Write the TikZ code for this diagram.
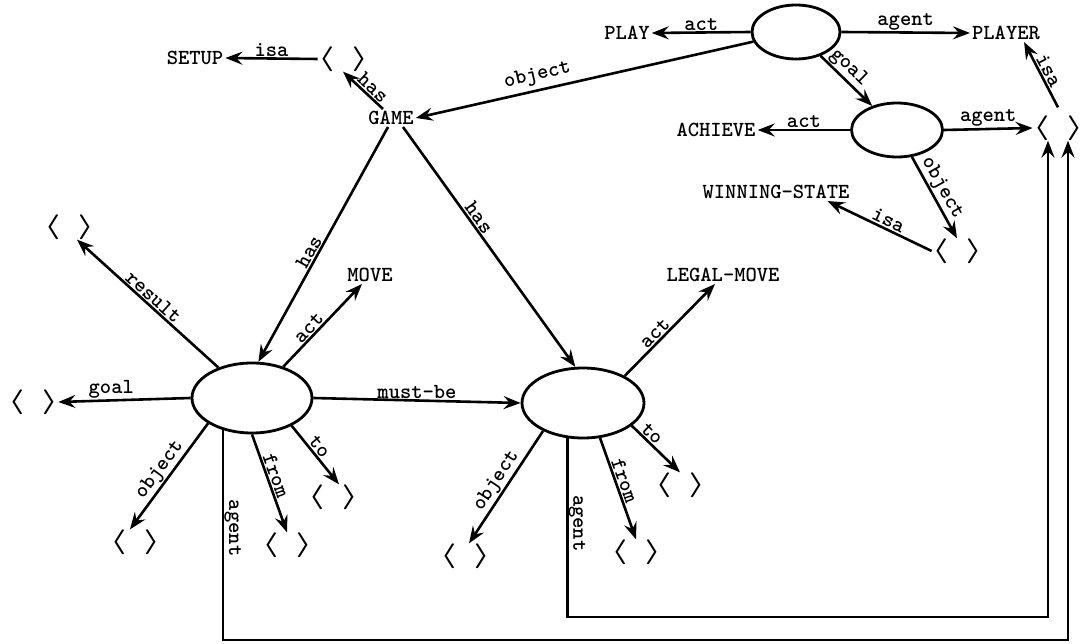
\documentclass[tikz,border=0pt]{standalone}
\usepackage{fontspec}
\usepackage{graphicx}
\usetikzlibrary{shapes.geometric,arrows.meta,calc}
\newcommand{\brk}{{\fontsize{25}{25}\selectfont\boldmath\scalebox{1.5}[1]{$\langle$}\hspace{17pt}\scalebox{1.5}[1]{$\rangle$}}}
\begin{document}
\begin{tikzpicture}[x=1pt,y=-1pt,
  txt/.style={font=\fontsize{21.5}{22}\selectfont\ttfamily\bfseries, inner sep=2pt},
  lab/.style={font=\fontsize{21.5}{22}\selectfont\ttfamily\bfseries, inner sep=1pt},
  brk/.style={inner sep=0pt},
  ell/.style={ellipse, draw, line width=2.8pt, inner sep=0pt},
  arr/.style={line width=2.6pt, -{Stealth[length=17pt,width=13pt,inset=6pt]}}]
\useasboundingbox (0,0) rectangle (1081,644);
% nodes
\node[txt] (setup) at (195,58) {SETUP};
\node[brk] (bTL) at (343,59) {\brk};
\node[txt] (game) at (391,118) {GAME};
\node[txt] (play) at (627,33) {PLAY};
\node[ell, minimum width=88pt, minimum height=54pt] (e1) at (796,32) {};
\node[txt] (player) at (1006,33) {PLAYER};
\node[ell, minimum width=91pt, minimum height=54pt] (e2) at (897,130) {};
\node[txt] (achieve) at (716,130) {ACHIEVE};
\node[brk] (bR) at (1058,128) {\brk};
\node[txt] (ws) at (776,192) {WINNING-STATE};
\node[brk] (bWS) at (957,251) {\brk};
\node[txt] (move) at (370,275) {MOVE};
\node[txt] (legal) at (723,275) {LEGAL-MOVE};
\node[ell, minimum width=120pt, minimum height=70pt] (e3) at (252,398) {};
\node[ell, minimum width=122pt, minimum height=70pt] (e4) at (583,403) {};
\node[brk] (bRes) at (69,227) {\brk};
\node[brk] (bGoal) at (33,402) {\brk};
\node[brk] (bObj3) at (135,542) {\brk};
\node[brk] (bFrom3) at (287,545) {\brk};
\node[brk] (bTo3) at (333,497) {\brk};
\node[brk] (bObj4) at (465,556) {\brk};
\node[brk] (bFrom4) at (636,552) {\brk};
\node[brk] (bTo4) at (680,485) {\brk};
\coordinate (cOut) at (600,640);
\coordinate (cIn) at (800,617);
% top part
\draw[arr] (bTL.west) -- node[lab, above] {isa} (setup.east);
\draw[arr] ([xshift=-8pt]game.north) -- node[lab, sloped, above, pos=.4] {has} (bTL.south);
\draw[arr] (e1) -- node[lab, sloped, above=3pt, pos=.63] {object} (game.east);
\draw[arr] (e1.west) -- node[lab, above] {act} (play.east);
\draw[arr] (e1.east) -- node[lab, above] {agent} (player.west);
\draw[arr] (e1) -- node[lab, sloped, above, pos=.4] {goal} (e2);
\draw[arr] (e2.west) -- node[lab, above] {act} (achieve.east);
\draw[arr] (e2.east) -- node[lab, above] {agent} (bR.west);
\draw[arr] (e2) -- node[lab, sloped, above, pos=.45] {object} (bWS.north);
\draw[arr] (bWS.west) -- node[lab, sloped, above, pos=.45] {isa} ([xshift=-24pt]ws.south east);
\draw[arr] ([yshift=8pt]bR.north) -- node[lab, sloped, above, pos=.5] {isa} ([xshift=-18pt]player.south east);
% GAME has
\draw[arr] ([xshift=-3pt]game.south) -- node[lab, sloped, above, pos=.55] {has} (e3.80);
\draw[arr] ([xshift=12pt]game.south) -- node[lab, sloped, above, pos=.4] {has} (e4.102);
% left ellipse
\draw[arr] (e3.45) -- node[lab, sloped, above, pos=.4] {act} ([xshift=-8pt]move.south);
\draw[arr] (e3) -- node[lab, sloped, above, pos=.5] {result} ([xshift=8pt]bRes.south);
\draw[arr] (e3.west) -- node[lab, above, pos=.6] {goal} (bGoal.east);
\draw[arr] (e3.east) -- node[lab, above] {must-be} (e4.west);
\draw[arr] (e3.-150) -- node[lab, sloped, above, pos=.5] {object} ([xshift=-5pt]bObj3.north);
\draw[arr] (e3.south) -- node[lab, sloped, above, pos=.45] {from} (bFrom3.north);
\draw[arr] (e3.-35) -- node[lab, sloped, above, pos=.45] {to} ([xshift=6pt]bTo3.north);
% right ellipse
\draw[arr] (e4.33) -- node[lab, sloped, above, pos=.4] {act} ([xshift=-8pt]legal.south);
\draw[arr] (e4.-145) -- node[lab, sloped, above, pos=.5] {object} ([xshift=4pt]bObj4.north);
\draw[arr] (e4.-64) -- node[lab, sloped, above, pos=.45] {from} (bFrom4.north);
\draw[arr] (e4.-25) -- node[lab, sloped, above, pos=.3] {to} (bTo4.north);
% agent loops
\draw[arr] (e3.-132) |- (cOut) -| ([xshift=10pt]bR.south);
\node[lab, rotate=-90, anchor=south] (agL) at ($(e3.-132)+(0,98)$) {agent};
\draw[arr] (e4.-114) |- (cIn) -| ([xshift=-10pt]bR.south);
\node[lab, rotate=-90, anchor=south] (agR) at ($(e4.-114)+(0,85)$) {agent};
\end{tikzpicture}
\end{document}
